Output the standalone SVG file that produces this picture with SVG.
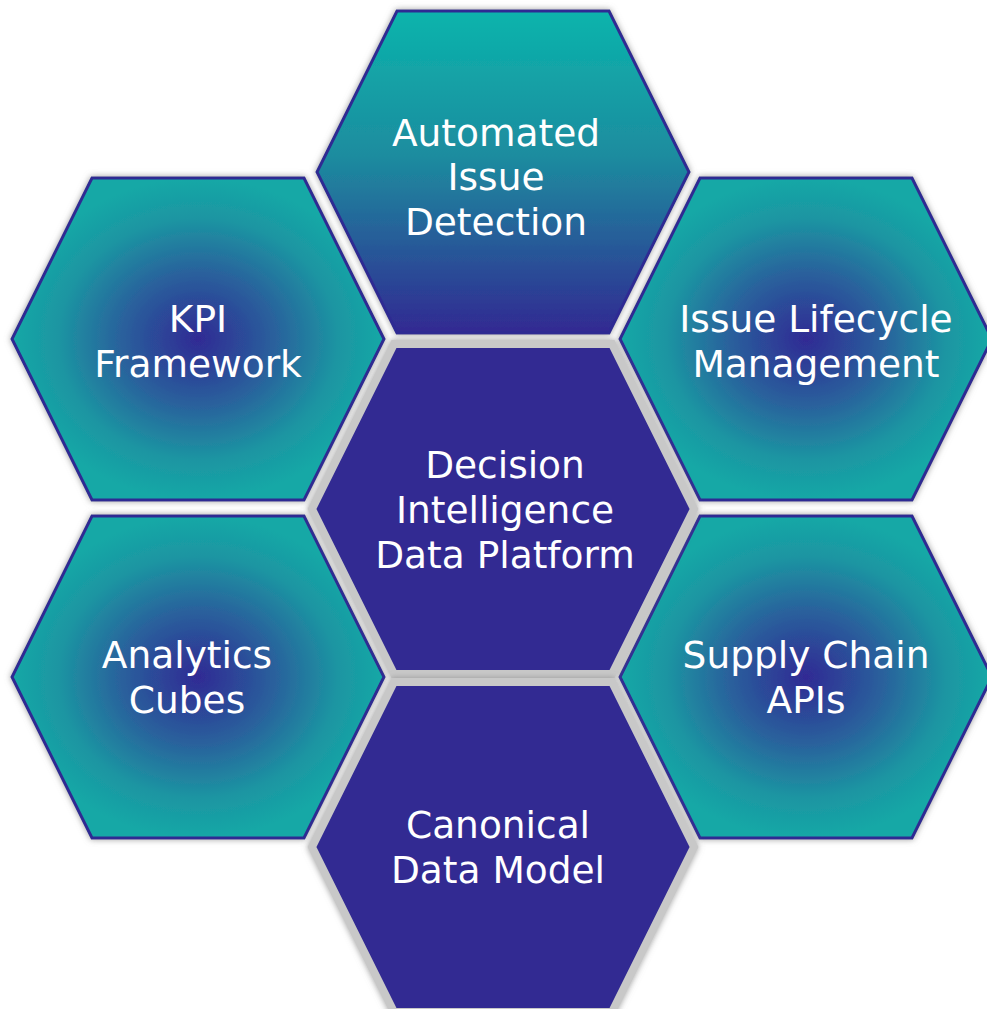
<svg xmlns="http://www.w3.org/2000/svg" width="987" height="1009" viewBox="0 0 987 1009">
<defs>
<radialGradient id="rg" cx="0.5" cy="0.5" r="0.5">
<stop offset="0" stop-color="#302a94"/>
<stop offset="0.4" stop-color="#2a5f9c"/>
<stop offset="0.75" stop-color="#1c95a2"/>
<stop offset="1" stop-color="#15a8a6"/>
</radialGradient>
<linearGradient id="lg" x1="0" y1="0" x2="0" y2="1">
<stop offset="0" stop-color="#0bb4ac"/>
<stop offset="0.45" stop-color="#1d8c9f"/>
<stop offset="1" stop-color="#312992"/>
</linearGradient>
<filter id="sh" x="-10%" y="-10%" width="120%" height="120%">
<feDropShadow dx="0" dy="0" stdDeviation="3" flood-color="#8c8c8c" flood-opacity="0.85"/>
</filter>
<polygon id="hx" points="-106,-161 106,-161 186,0 106,161 -106,161 -186,0"/>
<polygon id="hxc" points="-109,-165 109,-165 191,0 109,165 -109,165 -191,0"/>
</defs>
<style>
.outer{stroke:#2f2a93;stroke-width:3;filter:url(#sh);}
.core{fill:#312a92;stroke:#c8c8c8;stroke-width:8;stroke-linejoin:miter;filter:url(#sh);}
text{font-family:"DejaVu Sans","Verdana",sans-serif;font-size:37.5px;fill:#ffffff;text-anchor:middle;}
</style>
<rect width="987" height="1009" fill="#ffffff"/>
<g id="connectors"></g>
<g id="node-kpi">
<use href="#hx" transform="translate(198,339)" class="outer" fill="url(#rg)"/>
<text x="198" y="332">KPI</text>
<text x="198" y="377">Framework</text>
</g>
<g id="node-ilm">
<use href="#hx" transform="translate(806,339)" class="outer" fill="url(#rg)"/>
<text x="816" y="332">Issue Lifecycle</text>
<text x="816" y="377">Management</text>
</g>
<g id="node-analytics">
<use href="#hx" transform="translate(198,677)" class="outer" fill="url(#rg)"/>
<text x="187" y="668">Analytics</text>
<text x="187" y="713">Cubes</text>
</g>
<g id="node-supply">
<use href="#hx" transform="translate(806,677)" class="outer" fill="url(#rg)"/>
<text x="806" y="668">Supply Chain</text>
<text x="806" y="713">APIs</text>
</g>
<g id="node-detection">
<use href="#hx" transform="translate(503,172)" class="outer" fill="url(#lg)"/>
<text x="496" y="146">Automated</text>
<text x="496" y="190">Issue</text>
<text x="496" y="235">Detection</text>
</g>
<g id="node-platform">
<use href="#hxc" transform="translate(503,509)" class="core"/>
<text x="505" y="478">Decision</text>
<text x="505" y="523">Intelligence</text>
<text x="505" y="568">Data Platform</text>
</g>
<g id="node-canonical">
<use href="#hxc" transform="translate(503,847)" class="core"/>
<text x="498" y="838">Canonical</text>
<text x="498" y="883">Data Model</text>
</g>
</svg>
